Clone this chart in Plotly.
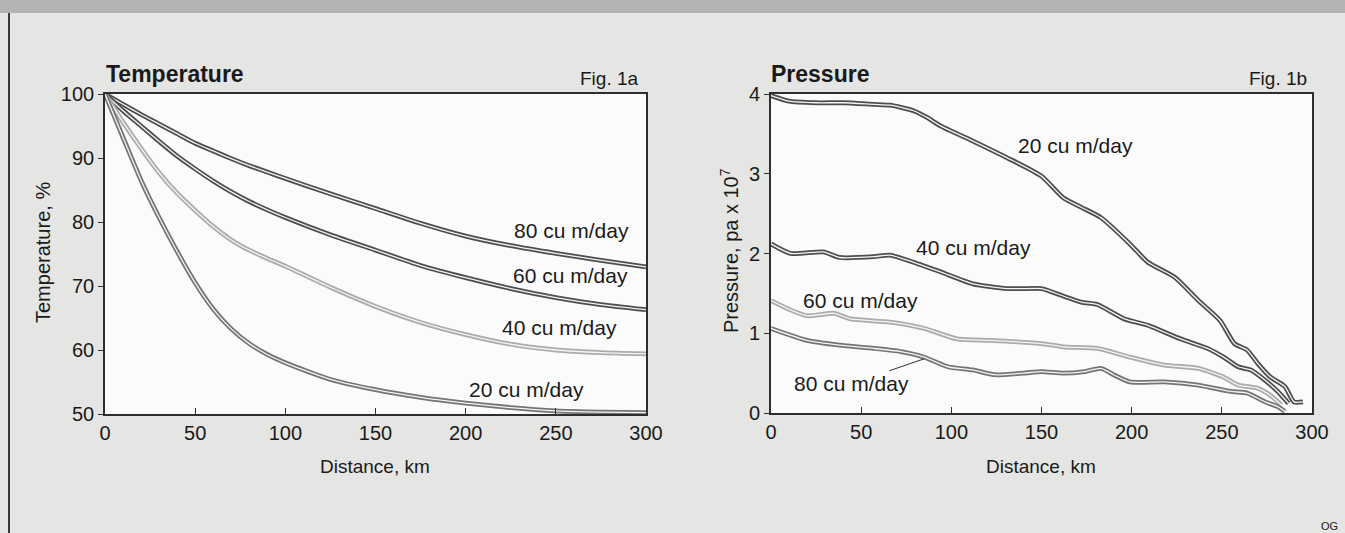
import plotly.graph_objects as go

# ---------------- data ----------------
flow_labels = ["80 cu m/day", "60 cu m/day", "40 cu m/day", "20 cu m/day"]

# Fig. 1a  Temperature, % vs distance, km
temp_dist = [0, 10, 20, 30, 40, 50, 60, 70, 80, 90, 100, 125, 150, 175, 200, 225, 250, 275, 300]
temp_80 = [100, 98.4, 96.8, 95.3, 93.8, 92.3, 91.1, 89.9, 88.8, 87.8, 86.8, 84.4, 82.1, 79.8, 77.8, 76.3, 75.1, 74.0, 73.0]
temp_60 = [100, 97.4, 95.0, 92.6, 90.3, 88.3, 86.4, 84.7, 83.2, 81.9, 80.7, 78.0, 75.6, 73.2, 71.3, 69.6, 68.2, 67.1, 66.3]
temp_40 = [100, 95.6, 91.5, 87.7, 84.5, 81.8, 79.3, 77.2, 75.6, 74.3, 73.1, 69.8, 66.8, 64.3, 62.4, 60.9, 60.0, 59.6, 59.4]
temp_20 = [100, 93.2, 86.5, 80.7, 75.4, 70.5, 66.4, 63.3, 61.0, 59.3, 58.0, 55.4, 53.8, 52.6, 51.7, 51.0, 50.5, 50.3, 50.2]

# Fig. 1b  Pressure, pa x 10^7 vs distance, km
p20_dist = [0, 10, 25, 40, 57, 66, 79, 87, 94, 112, 131, 150, 162, 172, 183, 199, 209, 224, 237, 249, 257, 264, 270, 277, 285, 290, 295]
p20_val = [3.98, 3.91, 3.89, 3.89, 3.87, 3.86, 3.79, 3.70, 3.60, 3.41, 3.20, 2.97, 2.70, 2.58, 2.45, 2.12, 1.89, 1.70, 1.41, 1.16, 0.87, 0.79, 0.62, 0.45, 0.33, 0.14, 0.14]
p40_dist = [0, 11, 29, 38, 57, 66, 79, 94, 112, 131, 150, 153, 172, 181, 196, 209, 227, 242, 251, 259, 266, 274, 281, 287]
p40_val = [2.12, 2.00, 2.02, 1.95, 1.96, 1.98, 1.89, 1.77, 1.62, 1.56, 1.56, 1.54, 1.39, 1.36, 1.18, 1.10, 0.93, 0.81, 0.70, 0.58, 0.54, 0.41, 0.27, 0.12]
p60_dist = [0, 11, 20, 35, 44, 66, 85, 103, 122, 150, 162, 181, 199, 218, 237, 251, 259, 270, 277, 283]
p60_val = [1.41, 1.29, 1.22, 1.25, 1.18, 1.14, 1.06, 0.93, 0.91, 0.87, 0.83, 0.81, 0.70, 0.60, 0.56, 0.45, 0.35, 0.31, 0.22, 0.10]
p80_dist = [0, 20, 38, 57, 72, 85, 98, 112, 124, 140, 150, 162, 174, 183, 190, 199, 218, 237, 255, 264, 274, 281, 285]
p80_val = [1.06, 0.91, 0.85, 0.81, 0.77, 0.70, 0.58, 0.54, 0.48, 0.50, 0.52, 0.50, 0.52, 0.56, 0.48, 0.39, 0.39, 0.35, 0.27, 0.25, 0.14, 0.08, 0.02]

x_ticks = [0, 50, 100, 150, 200, 250, 300]
temp_ticks = [50, 60, 70, 80, 90, 100]
pres_ticks = [0, 1, 2, 3, 4]

# ---------------- styling ----------------
W, H = 1345, 533
FONT = "Liberation Sans, Arial, Helvetica, sans-serif"
TXT = "#1a1a1a"
DARK, MID, LIGHT = "#4e4e4e", "#747474", "#ababab"
INNER = "#f4f4f4"

def px_x(p):
    return p / W

def px_y(p):
    return 1 - p / H

fig = go.Figure()

def double_line(x, y, color, xa, ya):
    fig.add_trace(go.Scatter(x=x, y=y, mode="lines", xaxis=xa, yaxis=ya,
                             line=dict(color=color, width=4.8, shape="spline", smoothing=0.6),
                             hoverinfo="skip", showlegend=False))
    fig.add_trace(go.Scatter(x=x, y=y, mode="lines", xaxis=xa, yaxis=ya,
                             line=dict(color=INNER, width=1.3, shape="spline", smoothing=0.6),
                             hoverinfo="skip", showlegend=False))

double_line(temp_dist, temp_80, DARK, "x", "y")
double_line(temp_dist, temp_60, DARK, "x", "y")
double_line(temp_dist, temp_40, LIGHT, "x", "y")
double_line(temp_dist, temp_20, MID, "x", "y")

double_line(p20_dist, p20_val, DARK, "x2", "y2")
double_line(p40_dist, p40_val, DARK, "x2", "y2")
double_line(p60_dist, p60_val, LIGHT, "x2", "y2")
double_line(p80_dist, p80_val, MID, "x2", "y2")

axis_common = dict(showgrid=False, zeroline=False, showline=True, linecolor="#2e2e2e",
                   linewidth=1.6, mirror=True, tickcolor="#2e2e2e", tickwidth=1.4,
                   automargin=False,
                   tickfont=dict(family=FONT, size=20, color=TXT))

fig.update_layout(
    width=W, height=H, autosize=False,
    margin=dict(l=0, r=0, t=0, b=0, pad=0, autoexpand=False),
    paper_bgcolor="#e5e5e3",
    plot_bgcolor="#fbfbfb",
    showlegend=False,
    xaxis=dict(domain=[px_x(105), px_x(646)], range=[0, 300], tickvals=x_ticks,
               ticks="inside", ticklen=6, anchor="y", **axis_common),
    yaxis=dict(domain=[px_y(414), px_y(94)], range=[50, 100], tickvals=temp_ticks,
               ticks="outside", ticklen=5, anchor="x", **axis_common),
    xaxis2=dict(domain=[px_x(771), px_x(1312)], range=[0, 300], tickvals=x_ticks,
                ticks="inside", ticklen=6, anchor="y2", **axis_common),
    yaxis2=dict(domain=[px_y(413), px_y(94)], range=[0, 4], tickvals=pres_ticks,
                ticks="outside", ticklen=5, anchor="x2", **axis_common),
)

# page decoration: top band and left rule
fig.add_shape(type="rect", xref="paper", yref="paper", x0=0, x1=1, y0=px_y(13), y1=1,
              fillcolor="#b4b4b2", line=dict(width=0), layer="below")
fig.add_shape(type="line", xref="paper", yref="paper", x0=px_x(9), x1=px_x(9), y0=0, y1=px_y(13),
              line=dict(color="#3a3a3a", width=2))

ann = []
# titles
ann.append(dict(text="<b>Temperature</b>", x=px_x(104), y=px_y(74), xanchor="left", yanchor="middle",
                font=dict(family=FONT, size=23, color=TXT)))
ann.append(dict(text="<b>Pressure</b>", x=px_x(769), y=px_y(74), xanchor="left", yanchor="middle",
                font=dict(family=FONT, size=23, color=TXT)))
ann.append(dict(text="Fig. 1a", x=px_x(641), y=px_y(79), xanchor="right", yanchor="middle",
                font=dict(family=FONT, size=19, color=TXT)))
ann.append(dict(text="Fig. 1b", x=px_x(1309), y=px_y(79), xanchor="right", yanchor="middle",
                font=dict(family=FONT, size=19, color=TXT)))
# axis titles
ann.append(dict(text="Temperature, %", x=px_x(43), y=px_y(253), textangle=-90,
                xanchor="center", yanchor="middle", font=dict(family=FONT, size=20, color=TXT)))
ann.append(dict(text="Pressure, pa x 10<sup>7</sup>", x=px_x(729), y=px_y(250), textangle=-90,
                xanchor="center", yanchor="middle", font=dict(family=FONT, size=20, color=TXT)))
ann.append(dict(text="Distance, km", x=px_x(375), y=px_y(466), xanchor="center", yanchor="middle",
                font=dict(family=FONT, size=19, color=TXT)))
ann.append(dict(text="Distance, km", x=px_x(1041), y=px_y(466), xanchor="center", yanchor="middle",
                font=dict(family=FONT, size=19, color=TXT)))
ann.append(dict(text="OG", x=px_x(1340), y=px_y(526), xanchor="right", yanchor="middle",
                font=dict(family=FONT, size=11, color=TXT)))

for a in ann:
    a.update(xref="paper", yref="paper", showarrow=False)
    fig.add_annotation(**a)

lab_font = dict(family=FONT, size=21, color=TXT)
# Fig 1a curve labels
temp_label_pos = [(258.6, 78.6), (258.3, 71.6), (252.2, 63.5), (233.8, 53.9)]
for lab, (lx, ly) in zip(flow_labels, temp_label_pos):
    fig.add_annotation(text=lab, x=lx, y=ly, xref="x", yref="y", showarrow=False,
                       xanchor="center", yanchor="middle", font=lab_font)

# Fig 1b curve labels
fig.add_annotation(text="20 cu m/day", x=168.9, y=3.35, xref="x2", yref="y2", showarrow=False,
                   xanchor="center", yanchor="middle", font=lab_font)
fig.add_annotation(text="40 cu m/day", x=112.1, y=2.07, xref="x2", yref="y2", showarrow=False,
                   xanchor="center", yanchor="middle", font=lab_font)
fig.add_annotation(text="60 cu m/day", x=49.9, y=1.41, xref="x2", yref="y2", showarrow=False,
                   xanchor="center", yanchor="middle", font=lab_font)
fig.add_annotation(text="80 cu m/day", x=85, y=0.68, xref="x2", yref="y2", showarrow=True,
                   arrowhead=0, arrowwidth=1, arrowcolor="#333", ax=-73, ay=25, standoff=0,
                   xanchor="center", yanchor="middle", font=lab_font)

fig.write_html("out.html", config={"displayModeBar": False, "responsive": False},
               post_script="document.body.style.margin='0px';document.body.style.overflow='hidden';")
